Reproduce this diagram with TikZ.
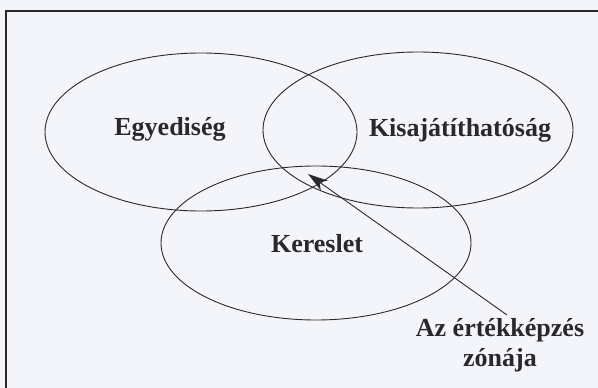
\documentclass[tikz,border=0pt]{standalone}
\usepackage{fontspec}
\setmainfont{Liberation Serif}
\usetikzlibrary{arrows.meta}
\definecolor{papir}{RGB}{244,245,250}
\definecolor{tinta}{RGB}{40,40,45}

\begin{document}
\begin{tikzpicture}[x=1pt, y=-1pt,
    halmaz/.style={draw=tinta, line width=0.9pt},
    felirat/.style={text=tinta, font=\bfseries\fontsize{26}{30}\selectfont, inner sep=0pt},
    nyil/.style={draw=tinta, line width=0.9pt, -{Stealth[length=20pt, width=12pt, inset=6pt]}}]

\useasboundingbox (0,0) rectangle (598,388);
\fill[papir] (0,0) rectangle (598,388);

% Frame (right and bottom sides are cut off)
\draw[tinta, line width=1.4pt] (6,388) -- (6,11) -- (598,11);

% The three sets
\draw[halmaz] (201,132) ellipse [x radius=156, y radius=79];
\draw[halmaz] (418,130) ellipse [x radius=155, y radius=78];
\draw[halmaz] (316,243) ellipse [x radius=155, y radius=77];

% Labels
\node[felirat] (egyed) at (170,129) {Egyediség};
\node[felirat] (kisaj) at (460,130) {Kisajátíthatóság};
\node[felirat] (keres) at (317,244) {Kereslet};
\node[felirat, align=center] (zona) at (500,345) {Az értékképzés\\zónája};

% Arrow into the common zone
\coordinate (metszet) at (308,174);
\draw[nyil] ([xshift=7pt, yshift=3pt]zona.north) -- (metszet);

\end{tikzpicture}
\end{document}
